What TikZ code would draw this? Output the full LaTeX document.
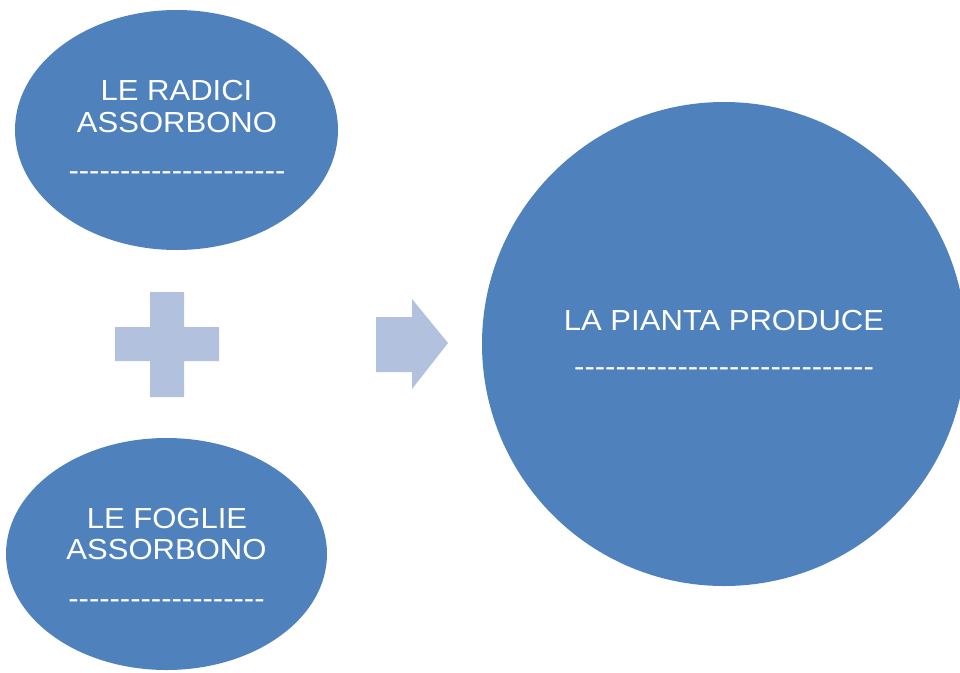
\documentclass[tikz,border=0pt]{standalone}
\usepackage{fontspec}
\setmainfont{Liberation Sans}
\usepackage{graphicx}
\definecolor{blob}{HTML}{4F81BD}
\definecolor{sym}{HTML}{B2C2DE}
\begin{document}
\begin{tikzpicture}[x=1pt,y=-1pt,
  blobshape/.style={fill=blob,draw=none},
  symshape/.style={fill=sym,draw=none},
  txt/.style={text=white,inner sep=0pt,anchor=base,font=\fontsize{29}{32}\selectfont}]
\useasboundingbox (0,0) rectangle (960,672);
\clip (0,0) rectangle (960,672);
% shapes
\fill[blobshape] (176.5,130) ellipse [x radius=161.5, y radius=120];
\fill[blobshape] (166.5,554) ellipse [x radius=160.5, y radius=116];
\fill[blobshape] (724,344) circle [radius=242];
\fill[symshape] (150,292) -- (184,292) -- (184,327) -- (219,327) -- (219,361) -- (184,361) -- (184,397) -- (150,397) -- (150,361) -- (115,361) -- (115,327) -- (150,327) -- cycle;
\fill[symshape] (376,317) -- (412,317) -- (412,299) -- (448,343) -- (412,389) -- (412,372) -- (376,372) -- cycle;
% texts
\node[txt] (r1) at (176.5,100) {\scalebox{1.07}[1]{LE RADICI}};
\node[txt] (r2) at (177,132) {\scalebox{1.07}[1]{ASSORBONO}};
\node[txt] (r3) at (177,180) {\scalebox{1.07}[1]{-{}-{}-{}-{}-{}-{}-{}-{}-{}-{}-{}-{}-{}-{}-{}-{}-{}-{}-{}-{}-{}}};
\node[txt] (f1) at (167,528) {\scalebox{1.07}[1]{LE FOGLIE}};
\node[txt] (f2) at (166.5,559) {\scalebox{1.07}[1]{ASSORBONO}};
\node[txt] (f3) at (166.5,608) {\scalebox{1.07}[1]{-{}-{}-{}-{}-{}-{}-{}-{}-{}-{}-{}-{}-{}-{}-{}-{}-{}-{}-{}}};
\node[txt] (p1) at (724,330) {\scalebox{1.07}[1]{LA PIANTA PRODUCE}};
\node[txt] (p2) at (724,376) {\scalebox{1.07}[1]{-{}-{}-{}-{}-{}-{}-{}-{}-{}-{}-{}-{}-{}-{}-{}-{}-{}-{}-{}-{}-{}-{}-{}-{}-{}-{}-{}-{}-{}}};
\end{tikzpicture}
\end{document}
